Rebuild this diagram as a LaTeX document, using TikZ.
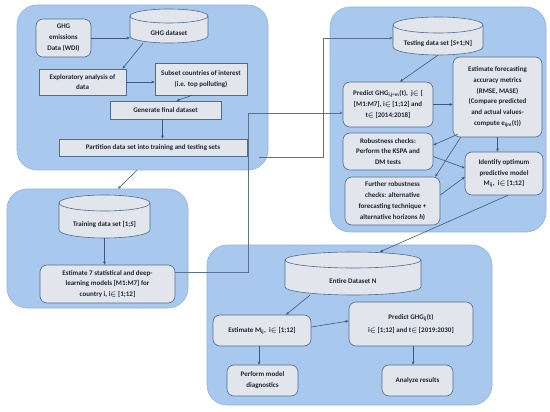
\documentclass[tikz,border=0pt]{standalone}
\usepackage{fontspec}
\setmainfont{Carlito}
\usetikzlibrary{arrows.meta}
\definecolor{panelfill}{RGB}{168,201,237}
\definecolor{paneldraw}{RGB}{140,180,225}
\definecolor{boxfill}{RGB}{226,229,236}
\definecolor{boxdraw}{RGB}{80,108,146}
\definecolor{arrcol}{RGB}{62,88,125}
\definecolor{txtcol}{RGB}{30,38,52}
\tikzset{
  panel/.style={draw=paneldraw, line width=0.6pt, fill=panelfill, rounded corners=20pt, inner sep=0pt},
  basebox/.style={draw=boxdraw, line width=0.6pt, fill=boxfill, inner sep=0pt, align=center,
     text=txtcol, font=\bfseries\boldmath\fontsize{7}{10.8}\selectfont},
  sbox/.style={basebox},
  rbox/.style={basebox, rounded corners=7pt},
  cylbody/.style={draw=boxdraw, line width=0.6pt, fill=boxfill},
  cylanchor/.style={inner sep=0pt},
  cyltext/.style={inner sep=0pt, align=center, text=txtcol, font=\bfseries\boldmath\fontsize{7}{10.8}\selectfont},
  arr/.style={draw=arrcol, line width=0.6pt, -{Stealth[length=3.2pt,width=2.8pt]}},
  conn/.style={draw=arrcol!85!white, line width=0.7pt, -{Stealth[length=3.2pt,width=2.8pt]}}
}
% box: style, name, x1, x2, y1, y2 (pixel coordinates, y downwards), text
\newcommand\mybox[7]{%
  \node[#1, minimum width=#4pt-#3pt, minimum height=#6pt-#5pt] (#2) at ({(#3+#4)/2},{(#5+#6)/2}) {#7};}
% cylinder: name, x1, x2, ytop, ybot, ry, text
\newcommand\mycyl[7]{%
  \pgfmathsetmacro\mcx{(#2+#3)/2}%
  \pgfmathsetmacro\mrx{(#3-#2)/2}%
  \pgfmathsetmacro\mya{#4+#6}%
  \pgfmathsetmacro\myb{#5-#6}%
  \pgfmathsetmacro\myc{(#4+#5)/2}%
  \pgfmathsetmacro\myt{(#4+2*#6+#5)/2}%
  \path[cylbody] (#2,\mya) -- (#2,\myb) arc[start angle=180,end angle=360,x radius=\mrx pt,y radius=#6pt]
     -- (#3,\mya) arc[start angle=0,end angle=180,x radius=\mrx pt,y radius=#6pt] -- cycle;
  \draw[boxdraw, line width=0.6pt] (#2,\mya) arc[start angle=180,end angle=360,x radius=\mrx pt,y radius=#6pt];
  \node[cylanchor, minimum width=#3pt-#2pt, minimum height=#5pt-#4pt] (#1) at (\mcx,\myc) {};
  \node[cyltext] (#1-t) at (\mcx,\myt) {#7};}
\begin{document}
\begin{tikzpicture}[x=1pt,y=-1pt]
\useasboundingbox (0,0) rectangle (550,412);
% panels
\node[panel, minimum width=251pt, minimum height=165pt] (P1) at (142.5,87.5) {};
\node[panel, minimum width=181pt, minimum height=119pt] (P2) at (97.5,248.5) {};
\node[panel, minimum width=216pt, minimum height=225pt] (P3) at (438,119.5) {};
\node[panel, minimum width=285pt, minimum height=160pt] (P4) at (349.5,325) {};
\coordinate (c9) at (259,157);
% top-left panel
\mybox{rbox}{ghgem}{36}{91}{19}{57}{GHG\\emissions\\Data (WDI)}
\mycyl{ghgds}{130}{208}{9}{43}{7}{GHG dataset}
\mybox{sbox}{explor}{39}{126}{69}{95}{Exploratory analysis of\\data}
\mybox{sbox}{subset}{155}{247}{63}{95}{Subset countries of interest\\(i.e. top polluting)}
\mybox{sbox}{gen}{110}{221}{101}{119}{Generate final dataset}
\mybox{sbox}{part}{59}{247}{139}{156}{Partition data set into training and testing sets}
% training panel
\mycyl{train}{59}{150}{195}{238}{8}{Training data set [1;\textit{S}]}
\mybox{rbox}{est7}{40}{175}{265}{303}{Estimate 7 statistical and deep-\\learning models [M1:M7] for\\country i, i$\in$ [1;12]}
% testing panel
\mycyl{test}{393}{483}{17}{55}{8}{Testing data set [\textit{S}+1;N]}
\mybox{rbox}{pred}{343}{433}{82}{127}{Predict GHG\textsubscript{i,j=m}(t),\ \ j$\in$ [\\{}[M1:M7], i$\in$ [1;12] and\\t$\in$ [2014:2018]}
\mybox{rbox}{fore}{453}{542}{57}{137}{Estimate forecasting\\accuracy metrics\\(RMSE, MASE)\\(Compare predicted\\and actual values-\\compute e\textsubscript{ijm}(t))}
\mybox{rbox}{rob}{343}{433}{133}{170}{Robustness checks:\\Perform the KSPA and\\DM tests}
\mybox{rbox}{ident}{465}{543}{152}{195}{Identify optimum\\predictive model\\M\textsubscript{ij},\ \ i$\in$ [1;12]}
\mybox{rbox}{further}{345}{440}{177}{225}{Further robustness\\checks: alternative\\forecasting technique +\\alternative horizons \textit{h})}
% bottom panel
\mycyl{entire}{285}{421}{252}{295}{8}{Entire Dataset N}
\mybox{rbox}{estM}{213}{311}{315}{346}{Estimate M\textsubscript{ij},\ \ i$\in$ [1;12]}
\mybox{rbox}{predG}{349}{473}{302}{346}{Predict GHG\textsubscript{ij}(t)\\[3pt]i$\in$ [1;12] and t$\in$ [2019:2030]}
\mybox{rbox}{perf}{227}{298}{365}{396}{Perform model\\diagnostics}
\mybox{rbox}{anal}{382}{453}{365}{396}{Analyze results}
% arrows inside panels
\draw[arr] (ghgem.east) -- (ghgds.west |- ghgem.east);
\draw[arr] ([xshift=-26pt]ghgds.south) -- ([xshift=40pt]explor.north);
\draw[arr] (explor.east) -- (subset.west |- explor.east);
\draw[arr] ([xshift=-9pt]subset.south) -- ([xshift=11pt]gen.north);
\draw[arr] ([xshift=-3pt]gen.south) -- ([xshift=-3pt]gen.south |- part.north);
\draw[arr] (train.south) -- (train.south |- est7.north);
\draw[arr] (test.south) -- ([xshift=12pt]pred.north);
\draw[arr] (pred.east) -- (fore.west |- pred.east);
\draw[arr] ([xshift=5pt,yshift=3pt]fore.south west) -- ([yshift=6.5pt]rob.east);
\draw[arr] (fore.south) -- (fore.south |- ident.north);
\draw[arr] ([yshift=-5pt]rob.east) -- ([yshift=5.5pt]ident.west);
\draw[arr] ([xshift=8pt]fore.south west) -- ([xshift=-5pt]further.north east);
\draw[arr] ([yshift=6pt]further.east) -- ([yshift=-3.5pt]ident.west);
\draw[arr] ([xshift=-43pt]entire.south) -- ([xshift=24pt]estM.north);
\draw[arr] ([yshift=3.5pt]estM.east) -- ([yshift=3pt]predG.west);
\draw[arr] ([xshift=-3pt]estM.south) -- ([xshift=-3pt]estM.south |- perf.north);
\draw[arr] ([xshift=2pt]predG.south) -- ([xshift=2pt]predG.south |- anal.north);
% arrows between panels
\draw[arr] ([xshift=-5.5pt]P1.south) -- ([xshift=20.5pt]P2.north);
\draw[arr] ([xshift=4pt]ident.south) -- ([xshift=27pt]entire.north);
\draw[conn] ([yshift=12pt]est7.east) -- ++(73,0) |- ([yshift=-8.5pt]pred.west);
\draw[conn] (c9) -- ++(64,0) |- ([yshift=-2pt]test.west);
\end{tikzpicture}
\end{document}
